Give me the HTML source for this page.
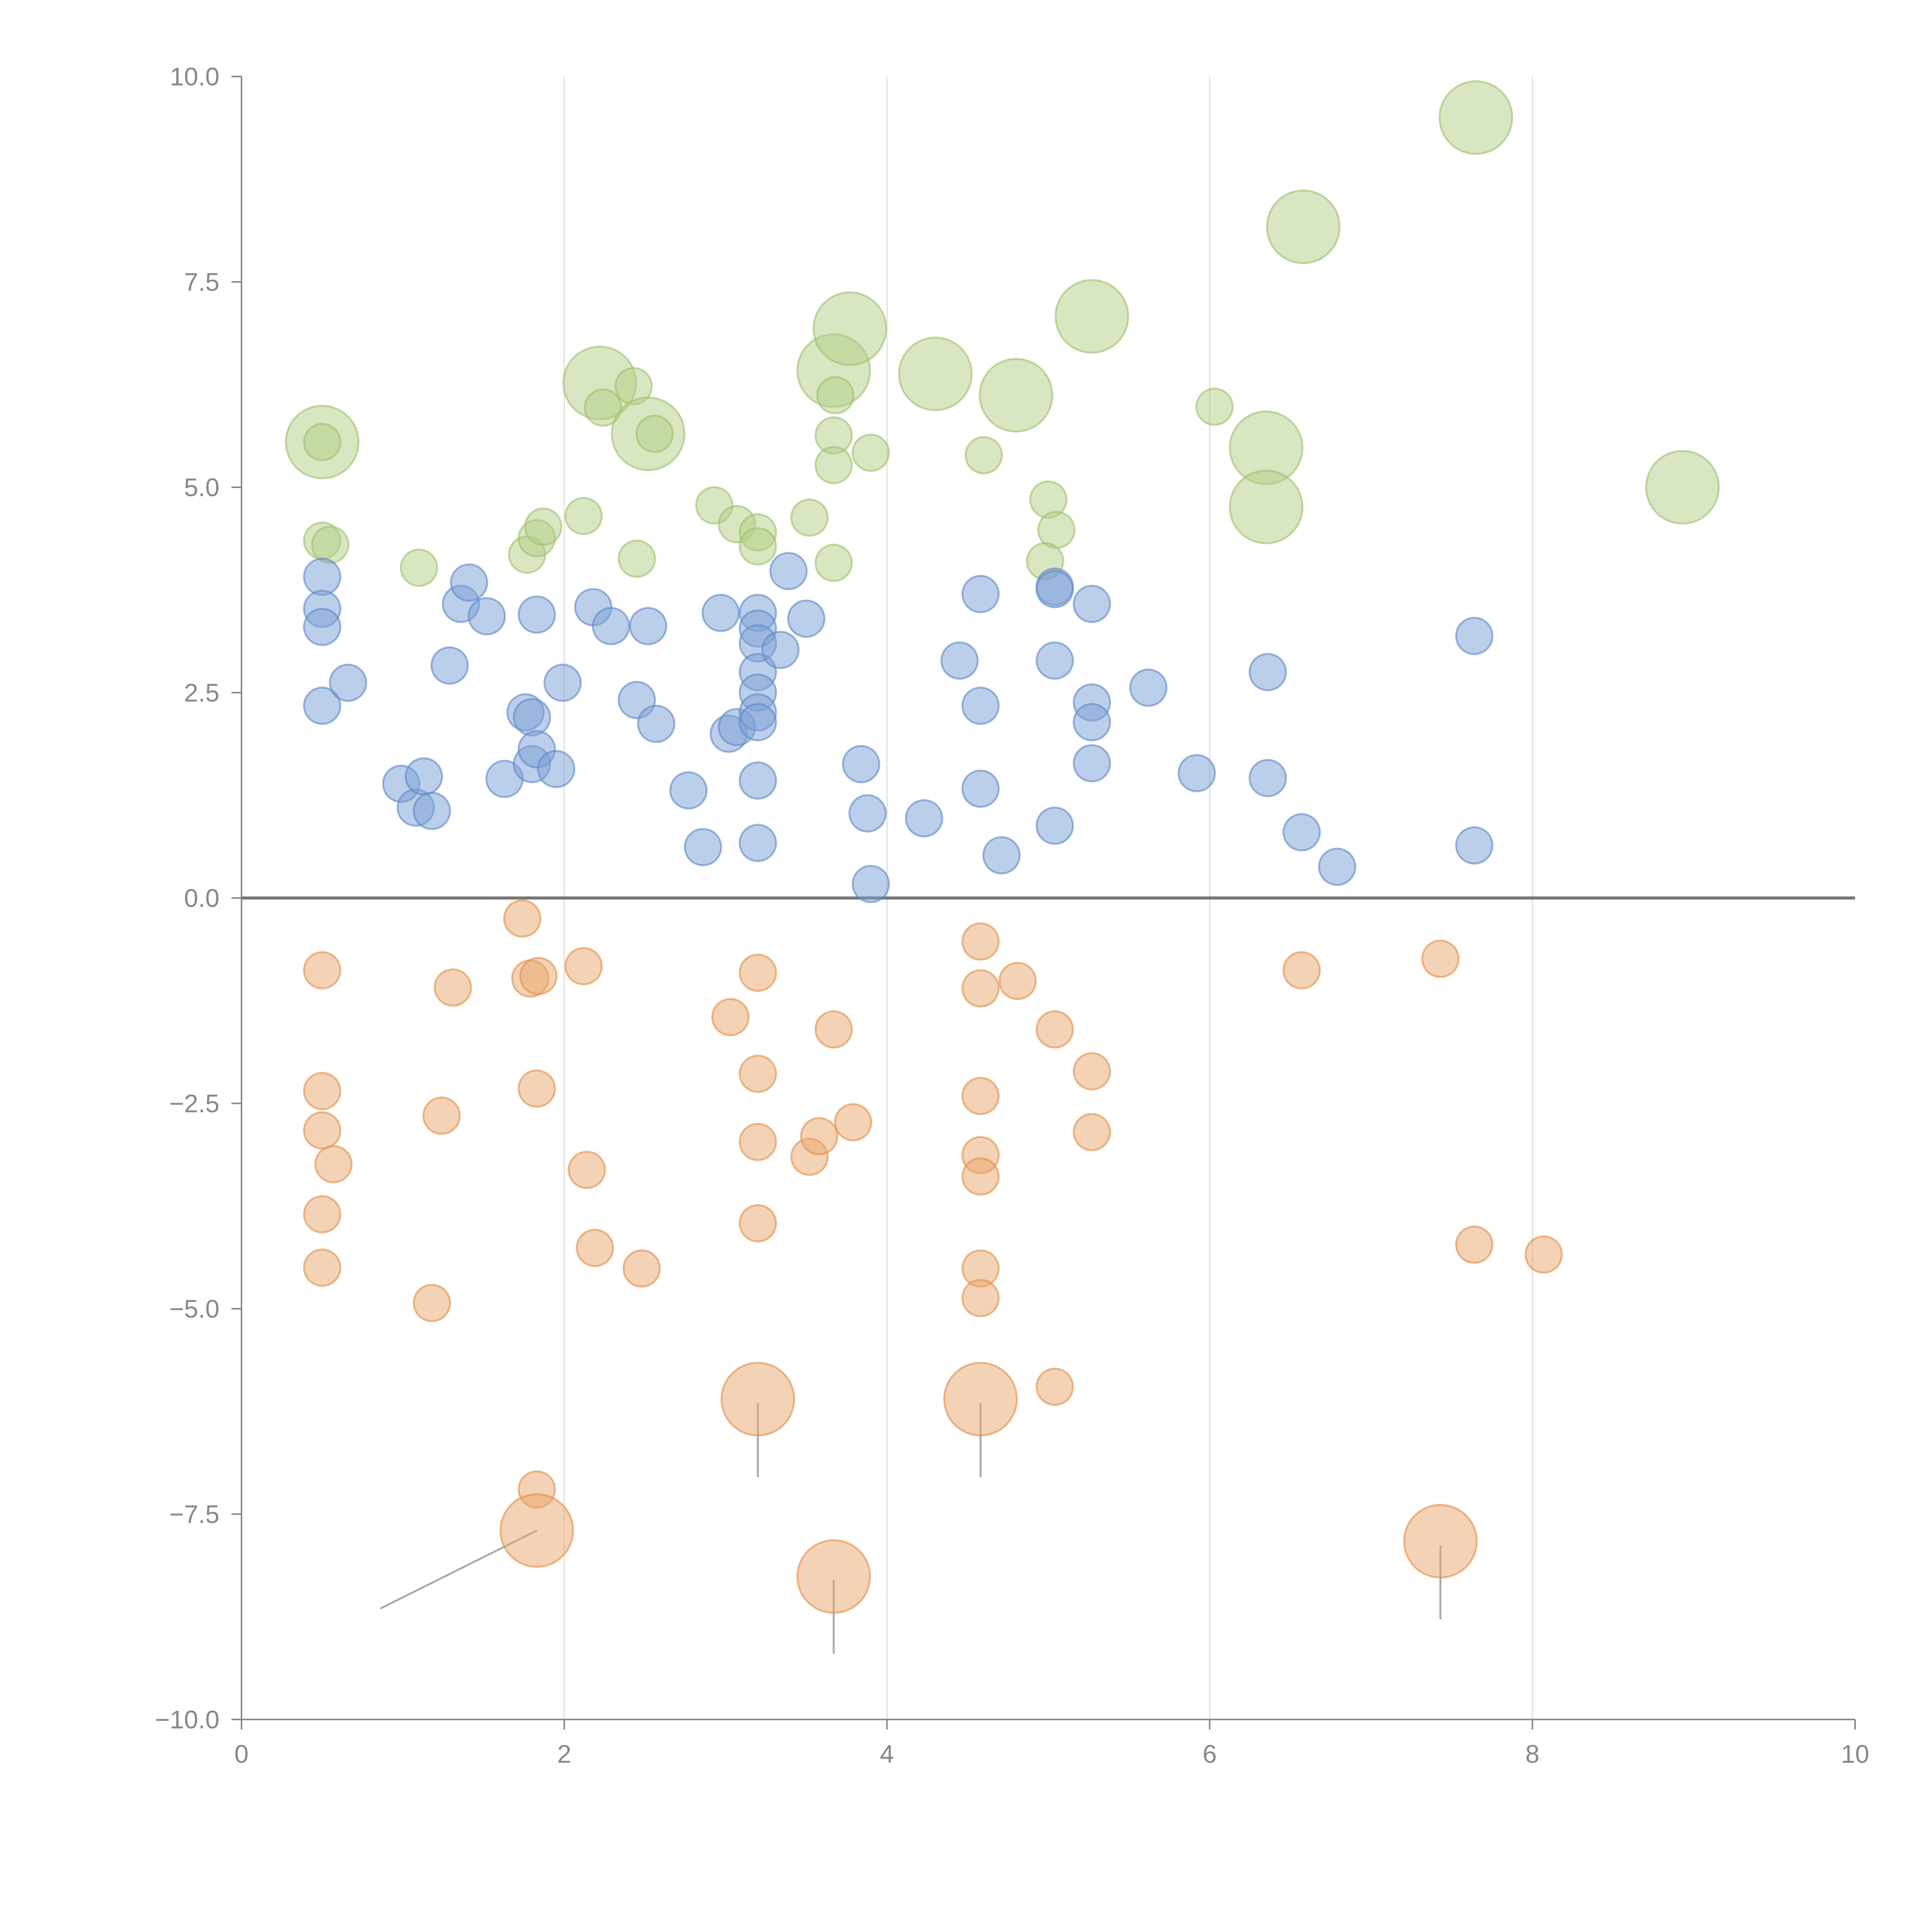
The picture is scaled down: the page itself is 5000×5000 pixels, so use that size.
<!DOCTYPE html>
<html><head><meta charset="utf-8">
<style>
html,body{margin:0;padding:0;background:#fff;}
svg{display:block;font-family:"Liberation Sans",sans-serif;}
</style></head>
<body>
<svg id="chart" width="5000" height="5000" viewBox="0 0 5000 5000">
<g id="grid"></g>
<g id="axes"></g>
<g id="leaders"></g>
<g id="marks"></g>
</svg>
<script>
const greenX=[0.5,0.5,0.5,0.55,1.1,1.77,1.83,1.87,2.12,2.22,2.24,2.43,2.52,2.56,2.93,3.07,3.2,3.2,3.52,3.67,3.68,3.67,3.67,3.67,3.9,3.77,4.3,4.6,4.8,5.0,5.05,4.98,5.27,6.03,6.35,6.35,6.58,7.65,8.93,2.45];
const greenY=[5.55,5.55,4.35,4.3,4.02,4.18,4.38,4.52,4.65,6.27,5.97,6.23,5.65,5.65,4.78,4.55,4.45,4.28,4.63,6.42,6.12,5.63,5.27,4.08,5.42,6.93,6.38,5.39,6.12,4.85,4.48,4.1,7.08,5.98,5.48,4.76,8.17,9.5,5.0,4.13];
const greenS=[4,1,1,1,1,1,1,1,1,4,1,1,4,1,1,1,1,1,1,4,1,1,1,1,1,4,4,1,4,1,1,1,4,1,4,4,4,4,4,1];
const blueX=[0.5,0.5,0.5,0.5,0.66,0.99,1.08,1.13,1.18,1.29,1.36,1.41,1.52,1.63,1.76,1.8,1.8,1.83,1.83,1.95,1.99,2.18,2.29,2.45,2.52,2.57,2.77,2.86,2.97,3.02,3.07,3.2,3.2,3.2,3.2,3.2,3.2,3.2,3.2,3.2,3.34,3.39,3.5,3.84,3.88,3.9,4.23,4.45,4.58,4.58,4.58,4.71,5.04,5.04,5.04,5.04,5.27,5.27,5.27,5.27,5.62,5.92,6.36,6.36,6.57,6.79,7.64,7.64];
const blueY=[3.91,3.52,3.3,2.34,2.62,1.39,1.1,1.48,1.06,2.83,3.58,3.84,3.43,1.45,2.26,2.2,1.63,1.81,3.45,1.57,2.62,3.54,3.31,2.41,3.31,2.12,1.31,0.62,3.47,2.0,2.08,3.47,3.28,3.1,2.75,2.5,2.26,2.14,1.43,0.67,3.02,3.98,3.4,1.63,1.03,0.17,0.97,2.89,3.7,2.34,1.33,0.52,3.79,3.76,2.89,0.88,3.58,2.38,2.14,1.64,2.56,1.52,2.75,1.46,0.8,0.38,3.19,0.64];
const orangeX=[0.5,0.5,0.5,0.57,0.5,0.5,1.31,1.24,1.18,1.74,1.79,1.84,1.83,2.12,2.14,2.19,2.48,1.83,1.83,3.03,3.2,3.2,3.2,3.2,3.2,3.52,3.58,3.67,3.79,3.67,4.58,4.58,4.58,4.58,4.58,4.58,4.58,4.58,4.81,5.04,5.04,5.27,5.27,6.57,7.43,7.43,7.64,8.07];
const orangeY=[-0.88,-2.35,-2.83,-3.24,-3.85,-4.5,-1.09,-2.65,-4.93,-0.25,-0.98,-0.95,-2.32,-0.83,-3.31,-4.26,-4.51,-7.2,-7.7,-1.45,-0.91,-2.14,-2.97,-3.96,-6.1,-3.15,-2.9,-1.6,-2.73,-8.26,-0.53,-1.1,-2.41,-3.13,-3.39,-4.51,-4.87,-6.1,-1.01,-1.6,-5.95,-2.11,-2.85,-0.88,-0.74,-7.83,-4.22,-4.34];
const orangeS=[1,1,1,1,1,1,1,1,1,1,1,1,1,1,1,1,1,1,4,1,1,1,1,1,4,1,1,1,1,4,1,1,1,1,1,1,1,4,1,1,1,1,1,1,1,4,1,1];
const leaderFromX=[3.2,4.58,3.67,7.43,1.83];
const leaderFromY=[-6.15,-6.15,-8.3,-7.88,-7.7];
const leaderToX=[3.2,4.58,3.67,7.43,0.86];
const leaderToY=[-7.05,-7.05,-9.2,-8.78,-8.65];
const xTicks=[0,2,4,6,8,10];
const yTicks=[-10,-7.5,-5,-2.5,0,2.5,5,7.5,10];

const NS="http://www.w3.org/2000/svg";
const X0=625,X1=4801,Y0=4450,Y1=198;
function xs(v){return X0+(v-0)/(10-0)*(X1-X0);}
function ys(v){return Y0-(v+10)/20*(Y0-Y1);}
function rs(s){return 47*Math.sqrt(s);}
function mk(tag,attrs,parent){const e=document.createElementNS(NS,tag);for(const k in attrs)e.setAttribute(k,attrs[k]);parent.appendChild(e);return e;}
const grid=document.getElementById('grid'),axes=document.getElementById('axes'),marks=document.getElementById('marks'),leaders=document.getElementById('leaders');
const AX="#888";
xTicks.forEach(t=>{
  if(t>0&&t<10){const g=mk('line',{x1:xs(t),x2:xs(t),y1:ys(10),y2:ys(-10),stroke:'#ddd','stroke-width':3},grid);
  
  }
  const tk=mk('line',{x1:xs(t),x2:xs(t),y1:Y0,y2:Y0+26,stroke:AX,'stroke-width':4},axes);
  
  
  const tx=mk('text',{x:xs(t),y:Y0+112,'text-anchor':'middle','font-size':66,fill:AX},axes);
  tx.textContent=String(t);
  
  
});
yTicks.forEach(t=>{
  const tk=mk('line',{x1:X0-26,x2:X0,y1:ys(t),y2:ys(t),stroke:AX,'stroke-width':4},axes);
  
  
  const tx=mk('text',{x:X0-57,y:ys(t)+23,'text-anchor':'end','font-size':66,fill:AX},axes);
  tx.textContent=(t<0?'\u2212':'')+Math.abs(t).toFixed(1);
  
  
});
const ya=mk('line',{x1:X0,x2:X0,y1:Y1,y2:Y0,stroke:AX,'stroke-width':4},axes);


const xa=mk('line',{x1:X0,x2:X1,y1:Y0,y2:Y0,stroke:AX,'stroke-width':4},axes);


const zl=mk('line',{x1:X0,x2:X1,y1:ys(0),y2:ys(0),stroke:'#777','stroke-width':8},axes);



function series(xArr,yArr,sArr,fill,stroke,name){
  xArr.forEach((x,i)=>{
    const c=mk('circle',{cx:xs(x),cy:ys(yArr[i]),r:rs(sArr?sArr[i]:1),fill:fill,'fill-opacity':0.5,stroke:stroke,'stroke-opacity':0.6,'stroke-width':5},marks);
    
    
  });
}
series(greenX,greenY,greenS,'#b3cd85','#9fbf6a','bubble-green');
series(blueX,blueY,null,'#7a9fd6','#5f87c6','bubble-blue');
series(orangeX,orangeY,orangeS,'#e9a66c','#e0904a','bubble-orange');
leaderFromX.forEach((x,i)=>{
  const l=mk('line',{x1:xs(x),y1:ys(leaderFromY[i]),x2:xs(leaderToX[i]),y2:ys(leaderToY[i]),stroke:'#aaa','stroke-width':5},leaders);
  
  
});
</script>
</body></html>
